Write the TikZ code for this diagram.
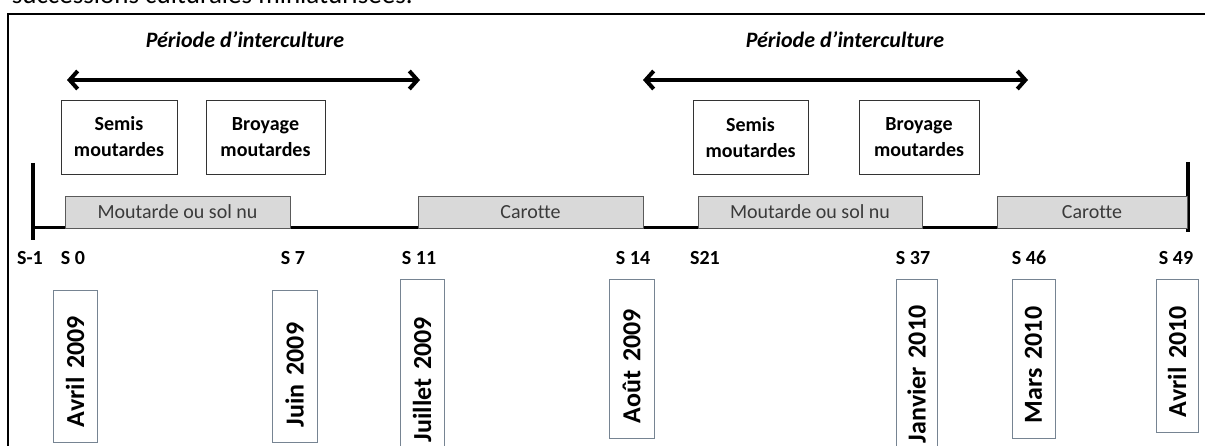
\documentclass[tikz,border=0pt]{standalone}
\usepackage{fontspec}
\setmainfont{Carlito}[Ligatures=NoCommon]
\usetikzlibrary{arrows.meta}
\definecolor{boxgray}{HTML}{D9D9D9}
\definecolor{edgegray}{HTML}{5A5A5A}
\definecolor{dateedge}{RGB}{118,132,146}
\definecolor{txtgray}{HTML}{3A3A3A}
\tikzset{
  frameline/.style={line width=2pt},
  axisline/.style={line width=3pt},
  tickline/.style={line width=4.5pt},
  period/.style={line width=4pt, {Straight Barb[length=8pt,width=18pt,line width=4pt]}-{Straight Barb[length=8pt,width=18pt,line width=4pt]}},
  periodtitle/.style={font=\fontsize{22}{26}\selectfont\bfseries\itshape},
  actbox/.style={draw=black!80, line width=0.8pt, fill=white, minimum width=117pt, minimum height=74pt, align=center, inner sep=0pt, font=\fontsize{20}{26}\selectfont\bfseries},
  cropbox/.style={draw=edgegray, line width=0.8pt, fill=boxgray, minimum height=32pt, inner sep=0pt, text=txtgray, font=\fontsize{20}{24}\selectfont},
  weeklabel/.style={font=\fontsize{20}{24}\selectfont\bfseries, inner sep=0pt},
  datebox/.style={draw=dateedge, line width=0.8pt, rotate=90, align=left, inner xsep=15pt, inner ysep=0pt, font=\fontsize{26}{30}\selectfont\bfseries},
}
\begin{document}
\begin{tikzpicture}[x=1pt,y=-1pt]
\useasboundingbox (0,0) rectangle (1205,446);
\clip (0,0) rectangle (1205,446);
% partial caption at top
\node[anchor=base east, inner sep=0pt, font=\fontsize{27}{30}\selectfont] (caption) at (413,4) {successions culturales miniaturisées.};
% frame
\draw[frameline] (8,460) -- (8,14) -- (1215,14);
% titles and arrows
\node[periodtitle] (t1) at (245,40) {Période d’interculture};
\node[periodtitle] (t2) at (845,40) {Période d’interculture};
\coordinate (a1l) at (67,80); \coordinate (a1r) at (420,80);
\coordinate (a2l) at (643,80); \coordinate (a2r) at (1028,80);
\draw[period] (a1l) -- (a1r);
\draw[period] (a2l) -- (a2r);
% activity boxes
\node[actbox, minimum width=116pt] (semis1) at (119,137) {Semis\\moutardes};
\node[actbox, minimum width=119pt] (broy1) at (265.5,137) {Broyage\\moutardes};
\node[actbox, minimum width=115pt] (semis2) at (750.5,137.5) {Semis\\moutardes};
\node[actbox, minimum width=120pt] (broy2) at (919,137.5) {Broyage\\moutardes};
% timeline
\coordinate (tl) at (33,228); \coordinate (tr) at (1188,228);
\coordinate (tlt) at (33,163); \coordinate (tlb) at (33,240);
\coordinate (trt) at (1188,162); \coordinate (trb) at (1188,232);
\draw[axisline] (tl) -- (tr);
\draw[tickline] (tlt) -- (tlb);
\draw[tickline] (trt) -- (trb);
% crop boxes
\node[cropbox, minimum width=225pt] (m1) at (177.5,212) {Moutarde ou sol nu};
\node[cropbox, minimum width=225pt] (c1) at (530.5,212) {Carotte};
\node[cropbox, minimum width=224pt] (m2) at (810,212) {Moutarde ou sol nu};
\node[cropbox, minimum width=190pt] (c2) at (1092,212) {Carotte};
% week labels
\node[weeklabel] (s-1) at (30,258) {S-1};
\node[weeklabel] (s0) at (73,258) {S 0};
\node[weeklabel] (s7) at (293,258) {S 7};
\node[weeklabel] (s11) at (419,258) {S 11};
\node[weeklabel] (s14) at (633,258) {S 14};
\node[weeklabel] (s21) at (705,258) {S21};
\node[weeklabel] (s37) at (913,258) {S 37};
\node[weeklabel] (s46) at (1029,258) {S 46};
\node[weeklabel] (s49) at (1176,258) {S 49};
% date boxes
\node[datebox, text width=122pt, minimum height=44pt] (d1) at (75,366) {Avril 2009};
\node[datebox, text width=122pt, minimum height=45pt] (d2) at (294.5,366) {Juin 2009};
\node[datebox, text width=148pt, minimum height=44pt] (d3) at (422,368) {Juillet 2009};
\node[datebox, text width=129pt, minimum height=45pt] (d4) at (631.5,358.5) {Août 2009};
\node[datebox, text width=149pt, minimum height=41pt] (d5) at (916.5,368.5) {Janvier 2010};
\node[datebox, text width=129pt, minimum height=43pt] (d6) at (1033.5,358.5) {Mars 2010};
\node[datebox, text width=123pt, minimum height=42pt] (d7) at (1177,355.5) {Avril 2010};
\end{tikzpicture}
\end{document}
